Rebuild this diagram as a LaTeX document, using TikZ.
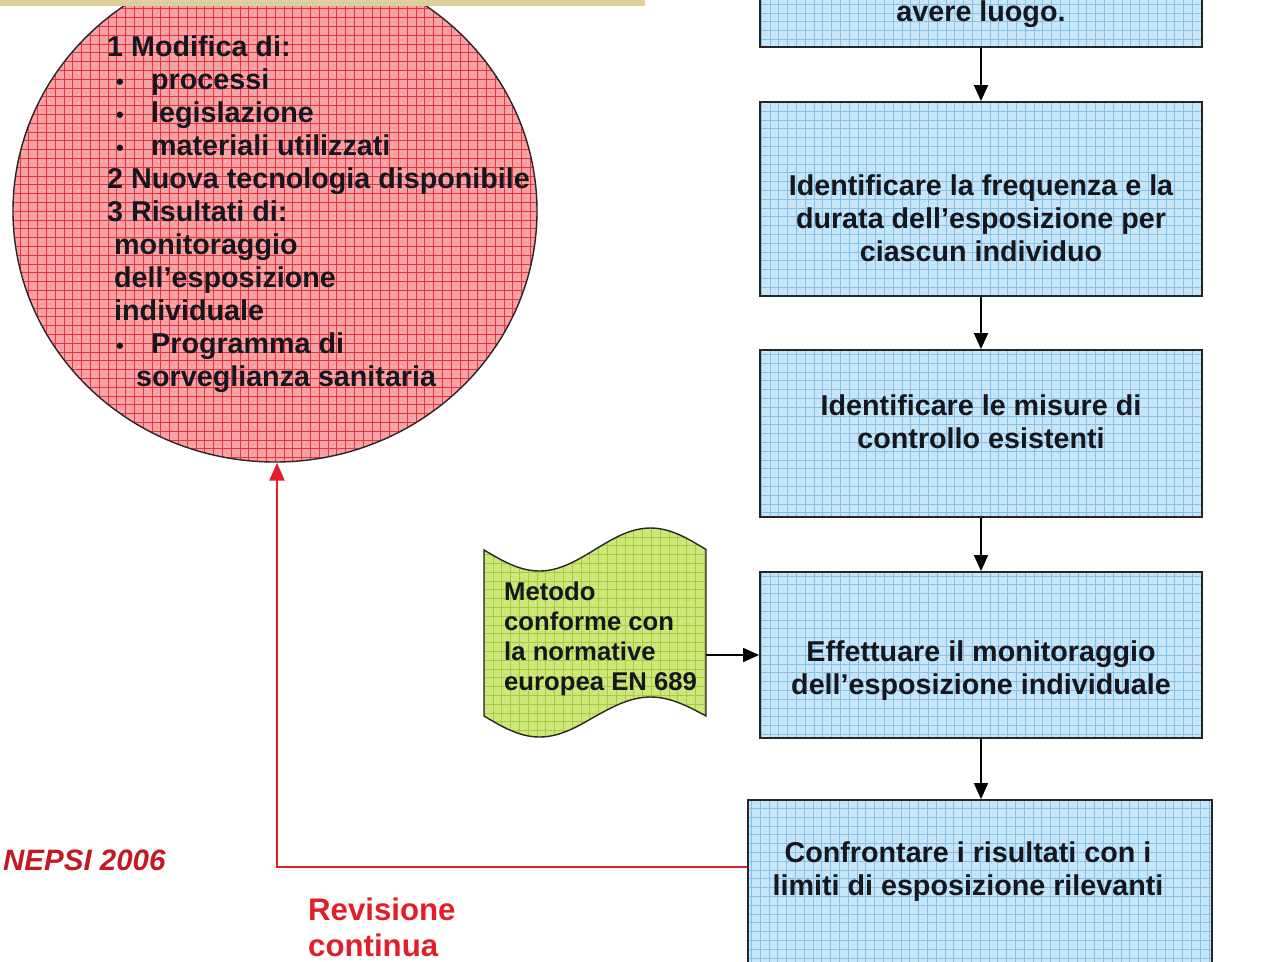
\documentclass[tikz,border=0pt]{standalone}
\usepackage{fontspec}
\setmainfont{Liberation Sans}
\usetikzlibrary{shapes.geometric,arrows.meta}
\definecolor{boxfill}{HTML}{C6E6F8}
\definecolor{boxgrid}{HTML}{84C0EA}
\definecolor{redfill}{HTML}{F7A3A6}
\definecolor{redgrid}{HTML}{E8343E}
\definecolor{grnfill}{HTML}{CDE878}
\definecolor{grngrid}{HTML}{A6CC46}
\definecolor{tanbar}{HTML}{DDD09C}
\definecolor{redline}{HTML}{E41E28}
\definecolor{txt}{HTML}{16161E}
\definecolor{edge}{HTML}{262626}
\newcommand\bulitem{\makebox[44pt][l]{\hspace*{9pt}{\fontsize{22}{33}\selectfont\textbullet}}}
\tikzset{
  gridfill/.style 2 args={fill=#1, path picture={\draw[#2, line width=0.6pt, step=8.8pt]
     ([shift={(-10pt,-10pt)}]path picture bounding box.south west) grid
     ([shift={(10pt,10pt)}]path picture bounding box.north east);}},
  bluebox/.style={rectangle, draw=edge, line width=1.8pt, gridfill={boxfill}{boxgrid}, inner sep=0pt},
  boxtext/.style={font=\bfseries\fontsize{28.7}{33}\selectfont, text=txt, align=center, inner sep=0pt},
  circtext/.style={font=\bfseries\fontsize{28.7}{33}\selectfont, text=txt, align=left, inner sep=0pt},
  grntext/.style={font=\bfseries\fontsize{25.7}{30}\selectfont, text=txt, align=left, inner sep=0pt},
  redtext/.style={font=\bfseries\fontsize{31.2}{36}\selectfont, text=redline, align=left, inner sep=0pt},
  arr/.style={draw=black, line width=1.6pt, -{Triangle[length=16pt,width=14pt]}},
  redarr/.style={draw=redline, line width=2.6pt, -{Triangle[length=18pt,width=15pt]}}
}
\begin{document}
\begin{tikzpicture}[x=1pt,y=-1pt]
\useasboundingbox (0,0) rectangle (1263,961);
\fill[white] (0,0) rectangle (1263,961);

% red circle
\node[ellipse, draw=black!85, line width=1.4pt, gridfill={redfill}{redgrid},
      minimum width=524pt, minimum height=502pt, inner sep=0pt] (circ) at (275,211) {};
\fill[tanbar] (0,0) rectangle (645,6);
\node[circtext, anchor=north west] (ctext) at (107,35) {%
1 Modifica di:\\
\bulitem processi\\
\bulitem legislazione\\
\bulitem materiali utilizzati\\
2 Nuova tecnologia disponibile\\
3 Risultati di:\\
\hspace*{7pt}monitoraggio\\
\hspace*{7pt}dell’esposizione\\
\hspace*{7pt}individuale\\
\bulitem Programma di\\
\hspace*{29pt}sorveglianza sanitaria};

% blue boxes
\node[bluebox, minimum width=442pt, minimum height=174pt] (b1) at (981,-40) {};
\node[bluebox, minimum width=442pt, minimum height=194pt] (b2) at (981,199) {};
\node[bluebox, minimum width=442pt, minimum height=167pt] (b3) at (981,433.5) {};
\node[bluebox, minimum width=442pt, minimum height=166pt] (b4) at (981,655) {};
\node[bluebox, minimum width=464pt, minimum height=210pt] (b5) at (980,905) {};

\node[boxtext] (t1) at (981,14) {avere luogo.};
\node[boxtext] (t2) at (981,218) {Identificare la frequenza e la\\durata dell’esposizione per\\ciascun individuo};
\node[boxtext] (t3) at (981,422) {Identificare le misure di\\controllo esistenti};
\node[boxtext] (t4) at (981,671) {Effettuare il monitoraggio\\dell’esposizione individuale};
\node[boxtext] (t5) at (968,871.5) {Confrontare i risultati con i\\limiti di esposizione rilevanti};

% green tape
\path[draw=edge, line width=1.4pt, gridfill={grnfill}{grngrid}]
  (484,550) sin (539.5,571) cos (595,549.5) sin (650.5,528) cos (706,549.5)
  -- (706,716) sin (650.5,697) cos (595,716.5) sin (539.5,737) cos (484,716) -- cycle;
\node[grntext, anchor=north west] (gtext) at (504,582) {Metodo\\conforme con\\la normative\\europea EN 689};
\coordinate (gE) at (706,655);

% arrows
\draw[arr] (b1.south) -- (b2.north);
\draw[arr] (b2.south) -- (b3.north);
\draw[arr] (b3.south) -- (b4.north);
\draw[arr] (b4.south) -- (b4.south |- b5.north);
\draw[arr] (gE) -- (gE -| b4.west);
\draw[redarr] ([yshift=-68pt]b5.north west) -| ([xshift=2pt]circ.south);

% labels
\node[redtext, anchor=north west] (rev) at (308,898) {Revisione\\continua};
\node[font=\bfseries\itshape\fontsize{29.5}{34}\selectfont, text=redline!85!black, inner sep=0pt, anchor=west] (nepsi) at (3,860) {NEPSI 2006};
\end{tikzpicture}
\end{document}
